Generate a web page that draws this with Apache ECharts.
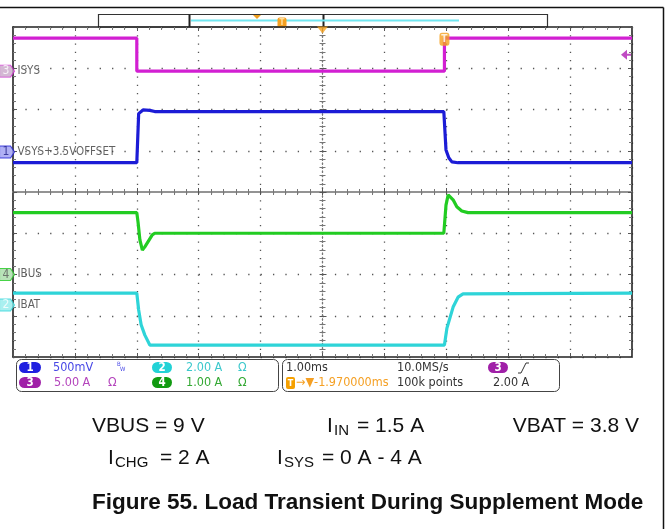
<!DOCTYPE html>
<html><head><meta charset="utf-8">
<script src="https://cdn.jsdelivr.net/npm/echarts@6/dist/echarts.min.js"></script>
<style>html,body{margin:0;padding:0;background:#fff}#c{width:668px;height:529px}</style>
</head><body><div id="c"></div>
<script>
// ---- data (time in ms relative to screen centre) ----
const isysT = [-5, -3.0, -3.0, 1.97, 1.97, 5];
const isysA = [4.0, 4.0, 0.0, 0.0, 4.0, 4.0];
const vsysT = [-5, -3.0, -2.97, -2.90, -2.79, -2.71, 1.96, 1.995, 2.04, 2.09, 2.19, 5];
const vsysV = [3.37, 3.37, 3.965, 4.01, 4.005, 3.99, 3.99, 3.525, 3.43, 3.38, 3.37, 3.37];
const ibusT = [-5, -3.0, -2.98, -2.95, -2.91, -2.87, -2.75, -2.71, 1.96, 1.995, 2.03, 2.06, 2.11, 2.17, 2.25, 2.35, 5];
const ibusA = [1.5, 1.5, 1.27, 0.84, 0.59, 0.67, 0.96, 1.0, 1.0, 1.68, 1.93, 1.95, 1.81, 1.64, 1.54, 1.5, 1.5];
const ibatT = [-5, -3.0, -2.97, -2.93, -2.87, -2.79, -2.74, 1.97, 2.01, 2.11, 2.19, 2.27, 5];
const ibatA = [0.58, 0.58, -0.24, -0.96, -1.46, -1.94, -1.94, -1.94, -1.12, -0.10, 0.38, 0.54, 0.58];

// channel settings: ch1..ch4
const chNum = ['1', '2', '3', '4'];
const chNames = ['VSYS+3.5VOFFSET', 'IBAT', 'ISYS', 'IBUS'];
const chGround = [0.97, -2.74, 2.93, -2.0];   // ground marker position, divisions
const chScale = [0.5, 2, 5, 1];               // units per division
const chOffset = [3.5, 0, 0, 0];
const chColor = ['#1c1cd6', '#2ed4d8', '#d21fd2', '#22cc22'];
const tagFill = ['#9c9cf2', '#94ecec', '#c9a6c9', '#a6dca6'];
const tagText = ['#20208a', '#ffffff', '#ffffff', '#5a5a5a'];
const trigTime = 1.97, trigLevel = 2.0, isysHigh = 4.0;

function toDiv(ts, vs, ch) { return ts.map((t, i) => [t, chGround[ch] + (vs[i] - chOffset[ch]) / chScale[ch]]); }

const chart = echarts.init(document.getElementById('c'), null, {renderer: 'canvas'});
const scopeFont = "'DejaVu Sans Condensed','DejaVu Sans',sans-serif";
const docFont = "'Liberation Sans',Arial,sans-serif";

function xAx(extra) {
  return Object.assign({type: 'value', min: -5, max: 5, interval: 1, axisLabel: {show: false},
    splitLine: {show: false}}, extra);
}
function yAx(extra) {
  return Object.assign({type: 'value', min: -4, max: 4, interval: 1, axisLabel: {show: false},
    splitLine: {show: false}}, extra);
}
const borderLine = {onZero: false, lineStyle: {color: '#222', width: 1.6}};
const tickIn = {show: true, inside: true, length: 4, lineStyle: {color: '#555', width: 1}};
const minorIn = {show: true, splitNumber: 5, length: 3, lineStyle: {color: '#777', width: 1}};
const tickOut = {show: true, inside: false, length: 3, lineStyle: {color: '#555', width: 1}};

const tagPath = 'path://M0,0 L11,0 L15,6 L11,12 L0,12 Z';
const tagData = chNum.map((n, i) => ({
  value: [-5, chGround[i]], symbol: tagPath, symbolSize: [15, 12], symbolOffset: [-6, 0],
  itemStyle: {color: tagFill[i], borderColor: chColor[i], borderWidth: 1},
  label: {show: true, formatter: n, position: 'inside', offset: [-1, 0], color: tagText[i],
    fontFamily: scopeFont, fontSize: 12}
}));
const nameData = chNames.map((s, i) => ({
  value: [-5, chGround[i]], symbolSize: 1, itemStyle: {color: 'rgba(0,0,0,0)'},
  label: {show: true, formatter: s, position: 'right', distance: 4, color: '#3a3a3a',
    fontFamily: scopeFont, fontSize: 11.5}
}));
const markData = [
  {value: [0, 4], symbol: 'path://M0,0 L10,0 L5,7 Z', symbolSize: [11, 7], symbolOffset: [0, 3],
    itemStyle: {color: '#f5a01e'}},
  {value: [trigTime, chGround[2] + isysHigh / chScale[2]], symbol: 'roundRect', symbolSize: [10, 13],
    symbolOffset: [0, 1], itemStyle: {color: '#f5a01e'},
    label: {show: true, formatter: 'T', position: 'inside', color: '#fff', fontWeight: 'bold',
      fontSize: 10, fontFamily: scopeFont}},
  {value: [5, chGround[2] + trigLevel / chScale[2]], symbol: 'path://M0,5 L6,0 L6,4 L10,4 L10,6 L6,6 L6,10 Z',
    symbolSize: [10, 10], symbolOffset: [-6, 0], itemStyle: {color: '#b01eb4'}}
];

function trace(name, data, ch, z) {
  return {type: 'line', name, data, showSymbol: false, animation: false, z,
    lineStyle: {color: chColor[ch], width: 3.2}, itemStyle: {color: chColor[ch]}};
}

function txt(x, y, text, fill, size, extra) {
  return {type: 'text', x, y, silent: true, style: Object.assign({text, fill, fontSize: size || 12.5,
    fontFamily: scopeFont, verticalAlign: 'middle', align: 'left'}, extra || {})};
}
function pill(x, y, w, fill, n) {
  return [{type: 'rect', shape: {x, y, width: w, height: 11, r: 5.5}, style: {fill}},
    txt(x + w / 2, y + 5.8, n, '#fff', 11.5, {align: 'center', fontWeight: 'bold'})];
}

const graphics = [
  {type: 'line', shape: {x1: 0, y1: 7.5, x2: 663.5, y2: 7.5}, style: {stroke: '#111', lineWidth: 1.5}},
  {type: 'line', shape: {x1: 663.5, y1: 7.5, x2: 663.5, y2: 529}, style: {stroke: '#111', lineWidth: 1.5}},
  // record view bar
  {type: 'rect', shape: {x: 98.5, y: 14.5, width: 449, height: 12.5}, style: {fill: '#fff', stroke: '#333', lineWidth: 1.2}},
  {type: 'line', shape: {x1: 189.5, y1: 14.5, x2: 189.5, y2: 27}, style: {stroke: '#222', lineWidth: 2}},
  {type: 'line', shape: {x1: 323.5, y1: 14.5, x2: 323.5, y2: 27}, style: {stroke: '#222', lineWidth: 2}},
  {type: 'line', shape: {x1: 191, y1: 20.5, x2: 459, y2: 20.5}, style: {stroke: '#70e6f0', lineWidth: 2}},
  {type: 'polygon', shape: {points: [[253, 15], [261, 15], [257, 19]]}, style: {fill: '#f0a020'}},
  {type: 'rect', shape: {x: 277.5, y: 17.5, width: 9, height: 10, r: 2}, style: {fill: '#f5a020'}},
  txt(282, 22.8, 'T', '#ffe0a0', 8, {align: 'center', fontWeight: 'bold'}),
  // info panel
  {type: 'rect', shape: {x: 16.5, y: 359.5, width: 262, height: 32, r: 5}, style: {fill: '#fff', stroke: '#444', lineWidth: 1}},
  {type: 'rect', shape: {x: 282.5, y: 359.5, width: 277, height: 32, r: 5}, style: {fill: '#fff', stroke: '#444', lineWidth: 1}},
  ...pill(19, 362, 22, '#2020e0', '1'),
  ...pill(19, 377, 22, '#a020a8', '3'),
  ...pill(152, 362, 20, '#22d2d6', '2'),
  ...pill(152, 377, 20, '#119a11', '4'),
  ...pill(488, 362, 20, '#a020a8', '3'),
  txt(53, 368, '500mV', '#4848e6'),
  txt(117, 364, 'B', '#4848e6', 6),
  txt(120, 369, 'W', '#4848e6', 6),
  txt(186, 368, '2.00 A', '#3cc8cc'),
  txt(238, 368, 'Ω', '#3cc8cc'),
  txt(54, 383, '5.00 A', '#b444bc'),
  txt(108, 383, 'Ω', '#b444bc'),
  txt(186, 383, '1.00 A', '#33a833'),
  txt(238, 383, 'Ω', '#33a833'),
  txt(286, 368, '1.00ms', '#333'),
  txt(397, 368, '10.0MS/s', '#333'),
  {type: 'polyline', shape: {points: [[518, 373], [521, 373], [526, 363], [529, 363]]}, style: {stroke: '#333', lineWidth: 1, fill: null}},
  {type: 'rect', shape: {x: 286, y: 377, width: 9, height: 12, r: 2}, style: {fill: '#f5a000'}},
  txt(290.5, 383.5, 'T', '#fff', 9, {align: 'center', fontWeight: 'bold'}),
  txt(296, 383, '→▼-1.970000ms', '#f5a024'),
  txt(397, 383, '100k points', '#333'),
  txt(493, 383, '2.00 A', '#333'),
  // document text
  txt(92, 426, 'VBUS = 9 V', '#111', 21, {fontFamily: docFont}),
  txt(327, 426, 'I', '#111', 21, {fontFamily: docFont}),
  txt(334, 431, 'IN', '#111', 15, {fontFamily: docFont}),
  txt(357, 426, '= 1.5 A', '#111', 21, {fontFamily: docFont}),
  txt(639, 426, 'VBAT = 3.8 V', '#111', 21, {fontFamily: docFont, align: 'right'}),
  txt(108, 458, 'I', '#111', 21, {fontFamily: docFont}),
  txt(115, 463, 'CHG', '#111', 15, {fontFamily: docFont}),
  txt(160, 458, '= 2 A', '#111', 21, {fontFamily: docFont}),
  txt(277, 458, 'I', '#111', 21, {fontFamily: docFont}),
  txt(284, 463, 'SYS', '#111', 15, {fontFamily: docFont}),
  txt(322, 458, '= 0 A - 4 A', '#111', 21, {fontFamily: docFont}),
  txt(92, 503, 'Figure 55. Load Transient During Supplement Mode', '#111', 22.5, {fontFamily: docFont, fontWeight: 'bold'})
];

chart.setOption({
  animation: false,
  backgroundColor: '#fff',
  grid: {left: 13, top: 27, width: 619, height: 330, containLabel: false},
  xAxis: [
    xAx({position: 'bottom', axisLine: borderLine, axisTick: tickIn, minorTick: minorIn,
      splitLine: {show: true, lineStyle: {color: '#555', width: 1.3, type: [1.3, 6.95]}}}),
    xAx({position: 'top', axisLine: borderLine, axisTick: tickIn, minorTick: minorIn}),
    xAx({position: 'bottom', axisLine: {onZero: true, onZeroAxisIndex: 0, lineStyle: {color: '#8c8c8c', width: 1.5}},
      axisTick: tickIn, minorTick: minorIn}),
    xAx({position: 'bottom', axisLine: {onZero: true, onZeroAxisIndex: 0, lineStyle: {color: '#8c8c8c', width: 1.5}},
      axisTick: tickOut, minorTick: {show: true, splitNumber: 5, length: 3, lineStyle: {color: '#777'}}})
  ],
  yAxis: [
    yAx({position: 'left', axisLine: borderLine, axisTick: tickIn, minorTick: minorIn,
      splitLine: {show: true, lineStyle: {color: '#555', width: 1.3, type: [1.3, 11.08]}}}),
    yAx({position: 'right', axisLine: borderLine, axisTick: tickIn, minorTick: minorIn}),
    yAx({position: 'left', axisLine: {onZero: true, onZeroAxisIndex: 0, lineStyle: {color: '#777', width: 1.2, type: [1.3, 2.8]}},
      axisTick: tickIn, minorTick: minorIn}),
    yAx({position: 'left', axisLine: {onZero: true, onZeroAxisIndex: 0, lineStyle: {color: '#777', width: 1.2, type: [1.3, 2.8]}},
      axisTick: tickOut, minorTick: {show: true, splitNumber: 5, length: 3, lineStyle: {color: '#777'}}})
  ],
  series: [
    trace('IBAT', toDiv(ibatT, ibatA, 1), 1, 3),
    trace('IBUS', toDiv(ibusT, ibusA, 3), 3, 4),
    trace('VSYS', toDiv(vsysT, vsysV, 0), 0, 5),
    trace('ISYS', toDiv(isysT, isysA, 2), 2, 6),
    {type: 'scatter', name: 'tags', data: tagData, clip: false, z: 10, animation: false, silent: true},
    {type: 'scatter', name: 'names', data: nameData, clip: false, z: 10, animation: false, silent: true},
    {type: 'scatter', name: 'marks', data: markData, clip: false, z: 11, animation: false, silent: true}
  ],
  graphic: graphics
});
</script></body></html>
